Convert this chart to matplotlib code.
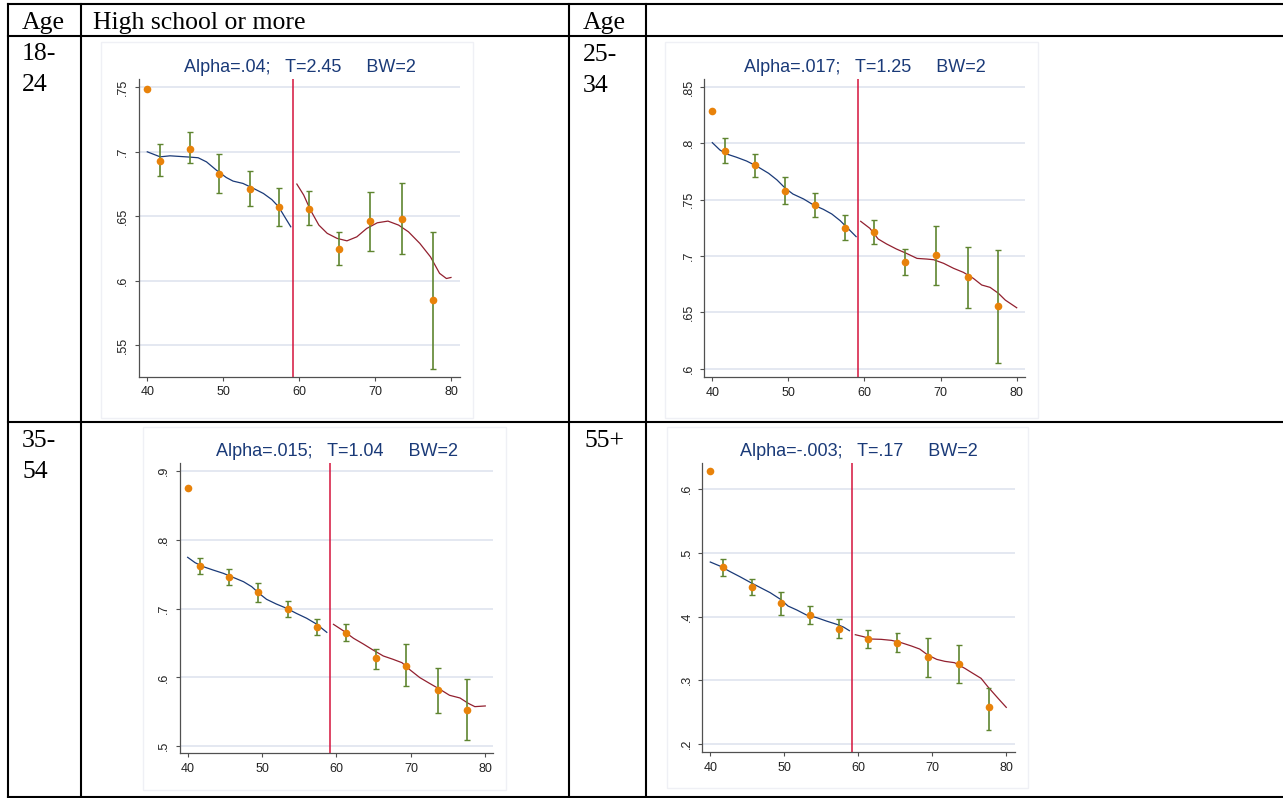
"""Four regression-discontinuity panels laid out in a bordered table."""

import matplotlib

matplotlib.use("Agg")

import matplotlib.pyplot as plt
from matplotlib.lines import Line2D
from matplotlib.patches import Rectangle


W, H = 1283, 798

# binned means (first bin at 40 has no interval)
BIN_X = [40, 41.7, 45.6, 49.5, 53.5, 57.4, 61.3, 65.3, 69.4, 73.6, 77.6]
CUTOFF = 59.15

P1_MEAN = [.749, .693, .702, .683, .671, .657, .656, .625, .646, .648, .585]
P1_LO = [None, .681, .691, .668, .658, .6425, .643, .612, .623, .621, .532]
P1_HI = [None, .706, .715, .698, .685, .672, .670, .638, .669, .676, .638]

P2_MEAN = [.829, .793, .7805, .758, .745, .725, .7215, .695, .701, .681, .6555]
P2_LO = [None, .7825, .770, .746, .735, .7145, .7105, .6835, .6745, .6535, .605]
P2_HI = [None, .805, .7905, .7705, .7555, .736, .732, .706, .727, .708, .705]

P3_MEAN = [.876, .762, .746, .724, .700, .673, .665, .628, .617, .582, .553]
P3_LO = [None, .750, .735, .709, .688, .661, .653, .613, .587, .548, .509]
P3_HI = [None, .774, .757, .738, .711, .685, .678, .642, .649, .614, .598]

P4_MEAN = [.629, .477, .447, .421, .403, .381, .365, .359, .336, .3255, .2575]
P4_LO = [None, .463, .434, .403, .389, .367, .351, .344, .305, .295, .2225]
P4_HI = [None, .490, .459, .439, .417, .396, .379, .374, .367, .356, .288]

# local fits
P1_LEFT_X = [40, 41.7, 43, 44.3, 45.6, 46.7, 47.8, 49.1, 50.4, 51.3, 52.6,
             54, 55.3, 56.4, 57.3, 58.1, 58.9]
P1_LEFT_Y = [.700, .6961, .6969, .6964, .6959, .6954, .6922, .6858, .6801,
             .6773, .6755, .6716, .6677, .6630, .6574, .6496, .6419]
P1_RIGHT_X = [59.7, 60.6, 61.5, 62.6, 63.7, 65, 66.3, 67.6, 68.9, 70.3, 71.7,
              73.1, 74.4, 75.9, 77.3, 78.5, 79.4, 80]
P1_RIGHT_Y = [.675, .6665, .6548, .6432, .6368, .6329, .6310, .6341, .6406,
              .6450, .6463, .6432, .6380, .6290, .6186, .6058, .6018, .6026]

P2_LEFT_X = [40, 41, 41.9, 43.2, 44.5, 45.8, 47.4, 48.5, 49.6, 50.6, 52,
             53.3, 54.6, 55.7, 56.8, 57.9, 58.9]
P2_LEFT_Y = [.8006, .7941, .7905, .7876, .7843, .7799, .7734, .7675, .7601,
             .7550, .7506, .7453, .7414, .7373, .7314, .7240, .7172]
P2_RIGHT_X = [59.5, 60.7, 61.8, 62.9, 64.2, 65.5, 66.9, 68.2, 69.1, 70.4,
              71.7, 73, 74.3, 75.4, 76.5, 77.6, 78.5, 80]
P2_RIGHT_Y = [.7308, .7246, .7151, .7107, .7062, .7024, .6979, .6973, .6967,
              .6935, .6891, .6855, .6802, .6743, .6722, .6669, .6609, .6541]

P3_LEFT_X = [40, 41, 42.1, 43.4, 44.8, 46.1, 47.5, 48.6, 49.7, 50.6, 51.9,
             53.3, 54.6, 56, 57.3, 58.7]
P3_LEFT_Y = [.7746, .7668, .761, .7562, .7513, .7455, .7392, .732, .7213,
             .7136, .7068, .7005, .6932, .686, .6777, .6656]
P3_RIGHT_X = [59.6, 60.9, 62.3, 63.6, 64.9, 66.3, 67.6, 68.8, 69.9, 71.2,
              72.5, 73.9, 75.2, 76.6, 77.7, 78.6, 80]
P3_RIGHT_Y = [.6772, .668, .6569, .6487, .64, .6312, .6264, .6215, .6109,
              .5998, .5915, .5828, .5741, .5702, .5625, .5576, .5586]

P4_LEFT_X = [40, 41.3, 42.7, 44, 45.4, 46.8, 48.1, 49.5, 50.5, 51.7, 53,
             54.4, 55.7, 57.1, 58, 58.8]
P4_LEFT_Y = [.4855, .4792, .4703, .4625, .4536, .4452, .4374, .4269, .4165,
             .4102, .4024, .3982, .3929, .3877, .3835, .3778]
P4_RIGHT_X = [59.6, 60.7, 61.8, 63.1, 64.5, 65.8, 67.2, 68.3, 69.4, 70.6,
              71.7, 73, 74.4, 75.5, 76.6, 77.5, 78.9, 80]
P4_RIGHT_Y = [.3715, .3684, .3647, .3642, .3626, .359, .3537, .349, .3396,
              .3328, .3297, .3276, .3187, .3108, .303, .29, .2716, .2575]

TITLES = [
    "Alpha=.04;   T=2.45     BW=2",
    "Alpha=.017;   T=1.25     BW=2",
    "Alpha=.015;   T=1.04     BW=2",
    "Alpha=-.003;   T=.17     BW=2",
]
X_TICKS = [40, 50, 60, 70, 80]
P1_YTICKS = [.55, .6, .65, .7, .75]
P2_YTICKS = [.6, .65, .7, .75, .8, .85]
P3_YTICKS = [.5, .6, .7, .8, .9]
P4_YTICKS = [.2, .3, .4, .5, .6]

AGE_LABELS = [["18-", "24"], ["25-", "34"], ["35-", "54"], ["55+"]]
HEADERS = ["Age", "High school or more", "Age"]

PANELS = [
    dict(mean=P1_MEAN, lo=P1_LO, hi=P1_HI,
         lx=P1_LEFT_X, ly=P1_LEFT_Y, rx=P1_RIGHT_X, ry=P1_RIGHT_Y,
         yticks=P1_YTICKS, title=TITLES[0]),
    dict(mean=P2_MEAN, lo=P2_LO, hi=P2_HI,
         lx=P2_LEFT_X, ly=P2_LEFT_Y, rx=P2_RIGHT_X, ry=P2_RIGHT_Y,
         yticks=P2_YTICKS, title=TITLES[1]),
    dict(mean=P3_MEAN, lo=P3_LO, hi=P3_HI,
         lx=P3_LEFT_X, ly=P3_LEFT_Y, rx=P3_RIGHT_X, ry=P3_RIGHT_Y,
         yticks=P3_YTICKS, title=TITLES[2]),
    dict(mean=P4_MEAN, lo=P4_LO, hi=P4_HI,
         lx=P4_LEFT_X, ly=P4_LEFT_Y, rx=P4_RIGHT_X, ry=P4_RIGHT_Y,
         yticks=P4_YTICKS, title=TITLES[3]),
]

# layout in pixels: axes box (left, top, right, bottom), limits, graph region
LAYOUT = [
    dict(box=(139, 79.3, 460, 376.7), xlim=(38.91, 81.19),
         ylim=(.5257, .7562), region=(101, 42, 473, 418), title_y=67),
    dict(box=(704.3, 79.3, 1025, 377.3), xlim=(38.95, 81.09),
         ylim=(.5924, .8568), region=(665, 42, 1038, 418), title_y=67),
    dict(box=(180, 462.7, 493.3, 753.3), xlim=(38.97, 81.08),
         ylim=(.4898, .9121), region=(143, 427, 506, 790), title_y=452),
    dict(box=(702.3, 462.7, 1015, 752), xlim=(38.92, 81.18),
         ylim=(.1875, .6413), region=(667, 427, 1028, 788), title_y=452),
]

NAVY = "#1a3a78"
MAROON = "#92202f"
ORANGE = "#e8820a"
GREEN = "#5f8530"
CRIMSON = "#d4143c"
GRID = "#dde2ee"
SANS = "Liberation Sans"
SERIF = "Liberation Serif"


def fx(x):
    return x / W


def fy(y):
    return 1 - y / H


def stata_label(value):
    text = f"{value:g}"
    if text.startswith("0."):
        text = text[1:]
    return text


fig = plt.figure(figsize=(W / 100, H / 100), dpi=100, facecolor="white")

for panel, lay in zip(PANELS, LAYOUT):
    rx0, ry0, rx1, ry1 = lay["region"]
    fig.add_artist(Rectangle((fx(rx0), fy(ry1)), fx(rx1 - rx0),
                             (ry1 - ry0) / H, transform=fig.transFigure,
                             fill=False, edgecolor="#eff0f5", lw=1.0))

    left, top, right, bottom = lay["box"]
    ax = fig.add_axes([fx(left), fy(bottom), fx(right - left),
                       (bottom - top) / H])
    ax.set_xlim(*lay["xlim"])
    ax.set_ylim(*lay["ylim"])

    for tick in panel["yticks"]:
        ax.axhline(tick, color=GRID, lw=1.1, zorder=0)
    ax.axvline(CUTOFF, color=CRIMSON, lw=1.1, zorder=1)

    ax.plot(panel["lx"], panel["ly"], color=NAVY, lw=0.9, zorder=2)
    ax.plot(panel["rx"], panel["ry"], color=MAROON, lw=0.9, zorder=2)

    ex = [x for x, lo in zip(BIN_X, panel["lo"]) if lo is not None]
    elo = [lo for lo in panel["lo"] if lo is not None]
    ehi = [hi for hi in panel["hi"] if hi is not None]
    ax.vlines(ex, elo, ehi, color=GREEN, lw=1.2, zorder=3)
    ax.hlines(elo + ehi, [x - 0.4 for x in ex * 2], [x + 0.4 for x in ex * 2],
              color=GREEN, lw=1.0, zorder=3)

    ax.plot(BIN_X, panel["mean"], "o", color=ORANGE, ms=5.5, mec="none",
            zorder=4)

    for side in ("top", "right"):
        ax.spines[side].set_visible(False)
    for side in ("left", "bottom"):
        ax.spines[side].set_color("#505050")
        ax.spines[side].set_linewidth(0.9)

    ax.set_xticks(X_TICKS)
    ax.set_xticklabels([str(t) for t in X_TICKS], fontsize=9, family=SANS)
    ax.set_yticks(panel["yticks"])
    ax.set_yticklabels([stata_label(t) for t in panel["yticks"]],
                       fontsize=9, family=SANS, rotation=90, va="center")
    ax.tick_params(length=3, width=0.8, color="#505050", labelcolor="#222222")
    ax.tick_params(axis="x", pad=4)
    ax.tick_params(axis="y", pad=4)

    fig.text(fx((left + right) / 2), fy(lay["title_y"]), panel["title"],
             ha="center", va="center", fontsize=13, family=SANS, color=NAVY)

# table rules
for y in (4, 36, 422, 797):
    fig.add_artist(Line2D([fx(8), 1], [fy(y), fy(y)],
                          transform=fig.transFigure, color="black", lw=1.5))
for x in (8, 81, 569, 646):
    fig.add_artist(Line2D([fx(x), fx(x)], [fy(4), fy(797)],
                          transform=fig.transFigure, color="black", lw=1.5))

# table text
for label, x in zip(HEADERS, (22, 93, 583)):
    fig.text(fx(x), fy(29), label, fontsize=18.5, family=SERIF,
             va="baseline", ha="left")

AGE_POS = [(22, 60), (583, 61), (22, 447), (584, 447)]
for lines, (x, y) in zip(AGE_LABELS, AGE_POS):
    for i, line in enumerate(lines):
        fig.text(fx(x), fy(y + 31 * i), line, fontsize=18.5, family=SERIF,
                 va="baseline", ha="left")

fig.savefig("out.png", dpi=100, facecolor="white")
